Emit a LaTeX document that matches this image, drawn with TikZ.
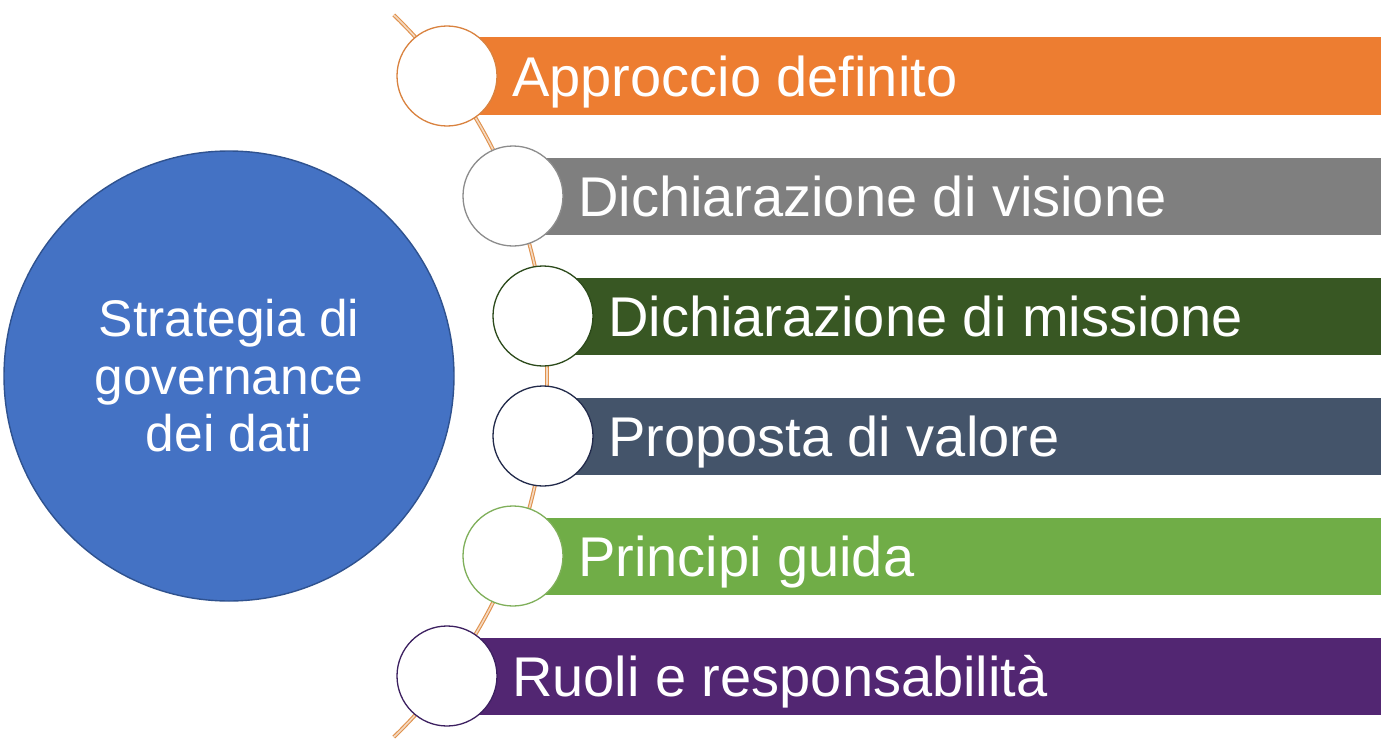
\documentclass[tikz,border=0pt]{standalone}
\usepackage{fontspec}
\setmainfont{Liberation Sans}
\definecolor{cBlue}{HTML}{4472C4}
\definecolor{cBlueEdge}{HTML}{2F528F}
\definecolor{cOrange}{HTML}{ED7D31}
\definecolor{cOrangeEdge}{HTML}{D9823F}
\definecolor{cGray}{HTML}{7F7F7F}
\definecolor{cGrayEdge}{HTML}{8C8C8C}
\definecolor{cDGreen}{HTML}{385723}
\definecolor{cDGreenEdge}{HTML}{2C4A1B}
\definecolor{cNavy}{HTML}{44546A}
\definecolor{cNavyEdge}{HTML}{222A4A}
\definecolor{cLGreen}{HTML}{70AD47}
\definecolor{cLGreenEdge}{HTML}{7FAF5A}
\definecolor{cPurple}{HTML}{522672}
\definecolor{cPurpleEdge}{HTML}{3C2060}
\definecolor{cArc}{HTML}{E0924E}
\begin{document}
\begin{tikzpicture}[x=1pt,y=-1pt,
  arcline/.style={draw=cArc, line width=1.1pt, double=cArc!35, double distance=1.6pt},
  hub/.style={circle, fill=cBlue, draw=cBlueEdge, line width=1.4pt, minimum size=450pt, inner sep=0pt,
    text=white, align=center, font=\fontsize{51.5}{57.5}\selectfont},
  dot/.style={circle, fill=white, minimum size=100pt, inner sep=0pt, line width=1.3pt},
  lbl/.style={text=white, anchor=base west, inner sep=0pt, font=\fontsize{56}{60}\selectfont}]
\useasboundingbox (0,0) rectangle (1381,752);
% arc through the item circles
\path (45,376) ++(-46:502) coordinate (arcTop);
\draw[arcline] (arcTop) arc[start angle=-46, end angle=46, radius=502] coordinate (arcBot);
% hub
\node[hub] (hub) at (229,376) {Strategia di\\governance\\dei dati};
% rows
\foreach \n/\cx/\cy/\col/\edge/\txt in {
  r1/447/76/cOrange/cOrangeEdge/{Approccio definito},
  r2/513/196/cGray/cGrayEdge/{Dichiarazione di visione},
  r3/543/316/cDGreen/cDGreenEdge/{Dichiarazione di missione},
  r4/543/436/cNavy/cNavyEdge/{Proposta di valore},
  r5/513/556/cLGreen/cLGreenEdge/{Principi guida},
  r6/447/676/cPurple/cPurpleEdge/{Ruoli e responsabilità}}{
  \fill[\col] (\cx,\cy-38.5) rectangle (1381,\cy+39);
  \node[dot, draw=\edge] (\n) at (\cx,\cy) {};
  \node[lbl] (\n t) at (\cx+65,\cy+20) {\txt};
}
\end{tikzpicture}
\end{document}
